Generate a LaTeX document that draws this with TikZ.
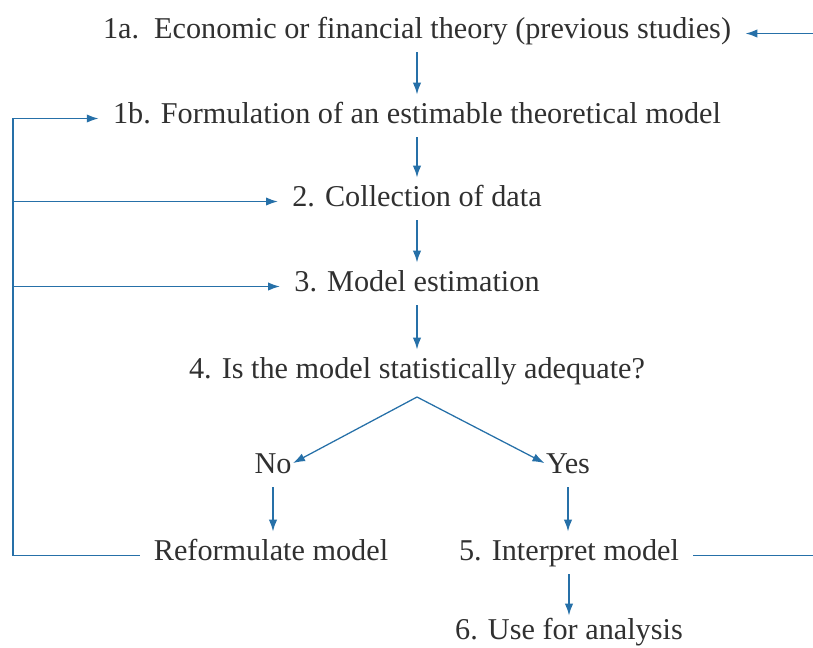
\documentclass[tikz,border=0pt]{standalone}
\usepackage{fontspec}
\setmainfont{Liberation Serif}
\newfontfamily\stagefont{Liberation Serif}
\usetikzlibrary{calc,positioning}
\usetikzlibrary{arrows.meta}
\definecolor{flowblue}{RGB}{38,112,168}
\definecolor{txtgray}{RGB}{48,48,48}

\begin{document}
\begin{tikzpicture}[x=0.025cm,y=-0.025cm,
	stage/.style={anchor=base,inner xsep=0.35cm,inner ysep=0pt,text height=0.64em,text depth=0pt,text=txtgray,font=\stagefont\fontsize{21.5}{26}\selectfont},
	answer/.style={stage,inner xsep=0pt},
	back/.style={draw=flowblue,line width=1.3pt},
	flow/.style={back,-{Latex[length=0.3cm,width=0.21cm]}},
	down/.style={flow,shorten <=0.35cm,shorten >=0.475cm},
	branch/.style={flow,line width=0.9pt,shorten >=1pt}]%%%modelling steps
\useasboundingbox (0,0) rectangle (813,647);
\coordinate (ledge) at (13,0);
\coordinate (redge) at (813,0);
\node[stage] (t1a) at (417,38) {1a.\ \ Economic or financial theory (previous studies)};
\node[stage] (t1b) at (417,123) {1b. Formulation of an estimable theoretical model};
\node[stage] (t2) at (417,206) {2. Collection of data};
\node[stage] (t3) at (417,291) {3. Model estimation};
\node[stage] (t4) at (417,378) {4. Is the model statistically adequate?};
\coordinate (split) at (417,397);
\node[answer] (no) at (273,473) {No};
\node[answer] (yes) at (568,473) {Yes};
\node[stage] (reform) at (271,560) {Reformulate model};
\node[stage] (t5) at (569,560) {5. Interpret model};
\node[stage] (t6) at (569,639) {6. Use for analysis};

\foreach \a/\b in {t1a/t1b,t1b/t2,t2/t3,t3/t4}
	\draw[down] (\a.south) -- (\b.north);
\draw[down] (no.south) -- (no.south |- reform.north);
\draw[down] (yes.south) -- (yes.south |- t5.north);
\draw[down,shorten >=0.35cm] (t5.south) -- (t6.north);
\draw[branch] (split) -- (no.north east);
\draw[branch] (split) -- (yes.north west);

\draw[flow] (reform.west) -- (reform.west -| ledge) -- (t1b.west -| ledge) -- (t1b.west);
\draw[flow] (t2.west -| ledge) -- (t2.west);
\draw[flow] (t3.west -| ledge) -- (t3.west);
\draw[flow] (t1a.east -| redge) -- (t1a.east);
\draw[back] (t5.east) -- (t5.east -| redge);
\end{tikzpicture}
\end{document}
